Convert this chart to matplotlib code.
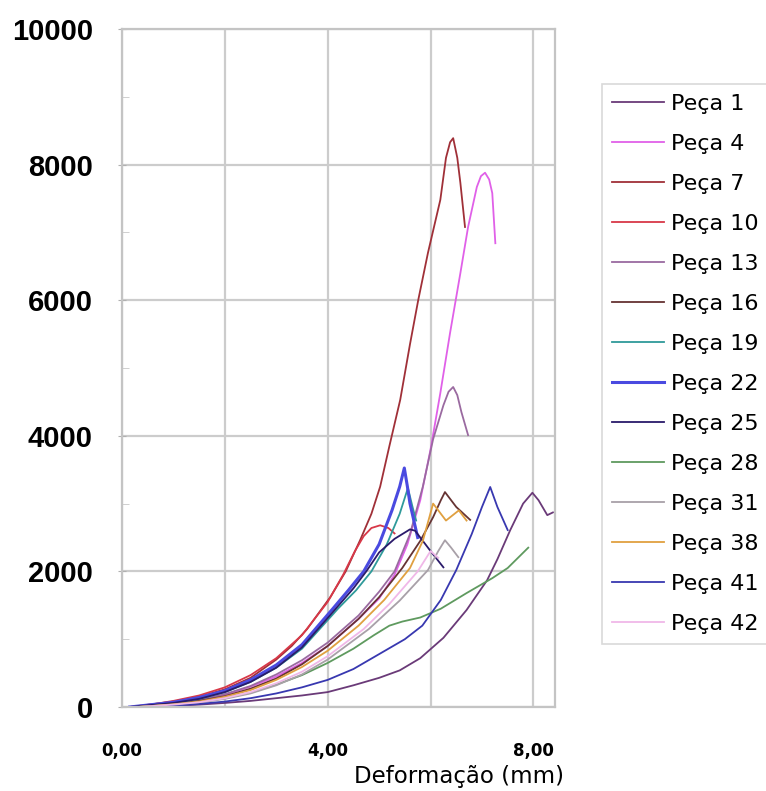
import matplotlib
matplotlib.use("Agg")
import matplotlib.pyplot as plt
from matplotlib.ticker import MultipleLocator
from matplotlib.transforms import ScaledTranslation

# series names and colours (legend order)
names = ["Peça 1", "Peça 4", "Peça 7", "Peça 10", "Peça 13", "Peça 16", "Peça 19",
         "Peça 22", "Peça 25", "Peça 28", "Peça 31", "Peça 38", "Peça 41", "Peça 42"]
colors = ["#6a3a78", "#e060e8", "#a03038", "#d83848", "#9a6aa0", "#663333", "#2f9a9a",
          "#4a4ae0", "#2a1a6a", "#5f9a5f", "#a8a0a8", "#e0a040", "#3838b0", "#f0b8e8"]

# deformation (mm) / load
x_p1 = [0.5, 1.0, 1.5, 2.0, 2.5, 3.0, 3.5, 4.0, 4.5, 5.0, 5.4, 5.8, 6.25, 6.7, 7.1, 7.3, 7.55, 7.8, 7.98, 8.1, 8.27, 8.38]
y_p1 = [0, 15, 35, 60, 90, 130, 170, 220, 320, 430, 540, 720, 1020, 1430, 1870, 2180, 2610, 3000, 3160, 3050, 2830, 2870]

x_p4 = [0.2, 1.0, 1.5, 2.0, 2.5, 3.0, 3.5, 4.0, 4.6, 5.0, 5.3, 5.55, 5.8, 6.0, 6.19, 6.38, 6.58, 6.73, 6.9, 6.98, 7.06, 7.14, 7.2, 7.26]
y_p4 = [0, 50, 100, 180, 300, 450, 650, 900, 1300, 1600, 1950, 2400, 3050, 3800, 4630, 5520, 6400, 7080, 7670, 7830, 7880, 7780, 7580, 6840]

x_p7 = [0.15, 1.0, 1.5, 2.0, 2.5, 3.0, 3.3, 3.6, 4.05, 4.35, 4.63, 4.85, 5.02, 5.2, 5.41, 5.6, 5.76, 5.95, 6.19, 6.3, 6.38, 6.44, 6.52, 6.58, 6.67]
y_p7 = [0, 80, 150, 260, 430, 700, 900, 1150, 1620, 2000, 2460, 2850, 3250, 3850, 4530, 5350, 6000, 6700, 7480, 8100, 8330, 8390, 8100, 7730, 7080]

x_p10 = [0.15, 0.6, 1.0, 1.5, 2.0, 2.5, 3.0, 3.5, 4.0, 4.3, 4.53, 4.7, 4.85, 5.02, 5.18, 5.3]
y_p10 = [0, 40, 90, 170, 290, 470, 720, 1060, 1550, 1950, 2300, 2520, 2640, 2680, 2640, 2560]

x_p13 = [0.2, 1.0, 1.5, 2.0, 2.5, 3.0, 3.5, 4.0, 4.6, 5.0, 5.3, 5.6, 5.85, 6.05, 6.25, 6.35, 6.44, 6.52, 6.6, 6.73]
y_p13 = [0, 50, 100, 190, 310, 480, 690, 950, 1350, 1700, 2000, 2550, 3250, 3950, 4450, 4650, 4720, 4600, 4350, 4010]

x_p16 = [0.2, 1.0, 1.5, 2.0, 2.5, 3.0, 3.5, 4.0, 4.6, 5.0, 5.45, 5.8, 6.05, 6.2, 6.28, 6.5, 6.77]
y_p16 = [0, 40, 90, 160, 270, 420, 630, 900, 1300, 1620, 2050, 2450, 2800, 3050, 3170, 2950, 2760]

x_p19 = [0.2, 1.0, 1.5, 2.0, 2.5, 3.0, 3.5, 4.2, 4.55, 4.85, 5.15, 5.4, 5.56, 5.65, 5.72]
y_p19 = [0, 60, 120, 220, 370, 580, 860, 1450, 1720, 2000, 2400, 2850, 3230, 2950, 2750]

x_p22 = [0.15, 1.0, 1.5, 2.0, 2.5, 3.0, 3.5, 4.1, 4.4, 4.7, 5.0, 5.25, 5.4, 5.49, 5.55, 5.6, 5.75]
y_p22 = [0, 70, 140, 240, 400, 620, 920, 1450, 1720, 2000, 2400, 2900, 3250, 3525, 3250, 3000, 2500]

x_p25 = [0.15, 1.0, 1.5, 2.0, 2.5, 3.0, 3.5, 4.1, 4.5, 4.75, 5.0, 5.3, 5.6, 5.7, 5.8, 6.0, 6.25]
y_p25 = [0, 60, 120, 220, 370, 580, 880, 1400, 1750, 2000, 2280, 2480, 2620, 2600, 2500, 2300, 2060]

x_p28 = [0.3, 1.0, 1.5, 2.0, 2.5, 3.0, 3.5, 4.0, 4.5, 4.9, 5.2, 5.45, 5.8, 6.2, 6.7, 7.2, 7.5, 7.9]
y_p28 = [0, 35, 70, 130, 210, 330, 470, 650, 860, 1060, 1200, 1260, 1320, 1450, 1680, 1900, 2050, 2350]

x_p31 = [0.3, 1.0, 1.5, 2.0, 2.5, 3.0, 3.5, 4.0, 4.8, 5.4, 5.95, 6.15, 6.28, 6.4, 6.54]
y_p31 = [0, 30, 65, 120, 200, 320, 480, 700, 1150, 1570, 2020, 2300, 2460, 2350, 2210]

x_p38 = [0.3, 1.0, 1.5, 2.0, 2.5, 3.0, 3.5, 4.0, 4.6, 5.1, 5.6, 5.85, 6.05, 6.3, 6.55, 6.7]
y_p38 = [0, 40, 80, 150, 250, 400, 590, 830, 1200, 1580, 2050, 2450, 3000, 2750, 2900, 2750]

x_p41 = [0.4, 1.0, 1.5, 2.0, 2.5, 3.0, 3.5, 4.0, 4.5, 5.0, 5.5, 5.84, 6.2, 6.5, 6.8, 7.0, 7.16, 7.3, 7.5]
y_p41 = [0, 20, 45, 80, 130, 200, 290, 400, 560, 780, 1000, 1200, 1580, 2020, 2550, 2950, 3245, 2950, 2610]

x_p42 = [0.3, 1.0, 1.5, 2.0, 2.5, 3.0, 3.5, 4.0, 4.7, 5.2, 5.75, 6.0, 6.15]
y_p42 = [0, 35, 70, 130, 220, 350, 520, 750, 1150, 1520, 2000, 2300, 2200]

xs = [x_p1, x_p4, x_p7, x_p10, x_p13, x_p16, x_p19, x_p22, x_p25, x_p28, x_p31, x_p38, x_p41, x_p42]
ys = [y_p1, y_p4, y_p7, y_p10, y_p13, y_p16, y_p19, y_p22, y_p25, y_p28, y_p31, y_p38, y_p41, y_p42]

x_ticks = [0, 2, 4, 6, 8]
x_tick_labels = ["0,00", "", "4,00", "", "8,00"]
y_ticks = [0, 2000, 4000, 6000, 8000, 10000]

fig = plt.figure(figsize=(7.66, 7.91), dpi=100)
ax = fig.add_axes([122 / 766, 1 - 707 / 791, 433 / 766, 678 / 791])

for name, c, x, y in zip(names, colors, xs, ys):
    lw = 2.2 if name == "Peça 22" else 1.3
    ax.plot(x, y, color=c, lw=lw, label=name)

ax.set_xlim(0, 8.42)
ax.set_ylim(0, 10000)

ax.set_xticks(x_ticks)
ax.set_xticklabels(x_tick_labels, fontsize=12, fontweight="bold", family="DejaVu Sans")
ax.set_yticks(y_ticks)
ax.set_yticklabels([str(v) for v in y_ticks], fontsize=21, fontweight="bold", family="Liberation Sans")
ax.yaxis.set_minor_locator(MultipleLocator(1000))

# excel puts the x labels slightly off their gridlines
for lab, dx in zip(ax.get_xticklabels(), [-12, 0, -5, 0, 8]):
    lab.set_transform(lab.get_transform() + ScaledTranslation(dx / 100, 0, fig.dpi_scale_trans))

ax.tick_params(axis="x", length=0, pad=25)
ax.tick_params(axis="y", which="major", direction="inout", length=6, color="#b0b0b0", pad=18)
ax.tick_params(axis="y", which="minor", direction="in", length=5, color="#c8c8c8")

ax.grid(True, color="#cccccc", lw=1.6)
ax.set_axisbelow(True)
for s in ax.spines.values():
    s.set_color("#c4c4c4")
    s.set_linewidth(1.6)

fig.text(459 / 766, 1 - 776 / 791, "Deformação (mm)", fontsize=16.5, ha="center", va="center")

leg = ax.legend(loc="upper left", bbox_to_anchor=(602 / 766, 1 - 84 / 791),
                bbox_transform=fig.transFigure, fontsize=16, frameon=True, fancybox=False,
                handlelength=2.34, handletextpad=0.3, borderpad=0.45, labelspacing=0.9,
                borderaxespad=0)
leg.get_frame().set_edgecolor("#d0d0d0")
leg.get_frame().set_linewidth(1.2)

fig.savefig("out.png", dpi=100)
